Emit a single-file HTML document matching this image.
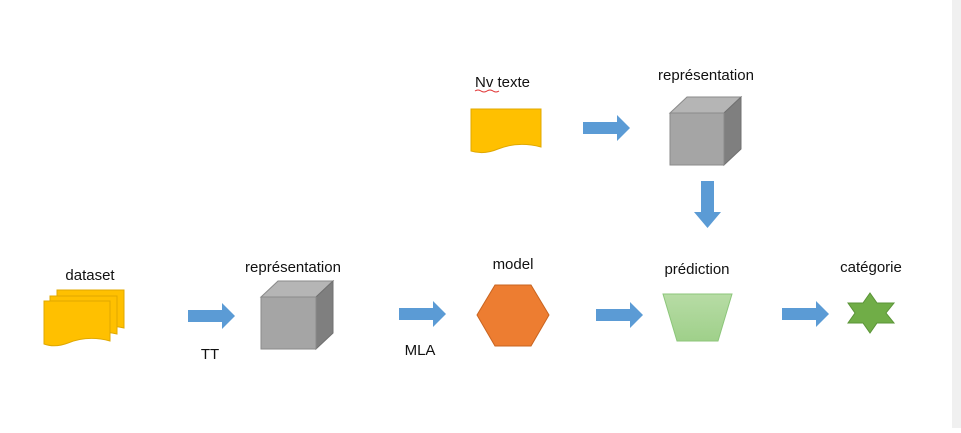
<!DOCTYPE html>
<html><head><meta charset="utf-8"><style>
body{margin:0;width:961px;height:428px;background:#fff;overflow:hidden}
text{font-family:"Liberation Sans",sans-serif;font-size:15px;fill:#111}
</style></head><body>
<svg width="961" height="428" viewBox="0 0 961 428" xmlns="http://www.w3.org/2000/svg">
<defs>
<linearGradient id="g" x1="0" y1="0" x2="0" y2="1"><stop offset="0" stop-color="#b7dca5"/><stop offset="1" stop-color="#9fd08a"/></linearGradient>
<g id="arr"><path d="M0,-6 H34 V-13 L47,0 L34,13 V6 H0 Z" fill="#5b9bd5"/></g>
</defs>
<rect x="952" y="0" width="9" height="428" fill="#f0f0f0"/>

<text x="90" y="280" text-anchor="middle">dataset</text>
<path d="M57,290 H124 V328 Q100,323 80,330 Q68,333 57,330 Z" fill="#ffc000" stroke="#e0a800" stroke-width="1"/>
<path d="M50,296 H117 V334 Q93,329 73,336 Q61,339 50,336 Z" fill="#ffc000" stroke="#e0a800" stroke-width="1"/>
<path d="M44,301 H110 V341 Q88,335 68,343 Q55,348 44,344 Z" fill="#ffc000" stroke="#e0a800" stroke-width="1"/>
<use href="#arr" x="188" y="316"/>
<text x="210" y="359" text-anchor="middle">TT</text>

<text x="293" y="272" text-anchor="middle">représentation</text>
<path d="M261,297 L278,281 H333 L316,297 Z" fill="#b5b5b5" stroke="#8a8a8a"/>
<path d="M316,297 L333,281 V333 L316,349 Z" fill="#7f7f7f" stroke="#707070"/>
<rect x="261" y="297" width="55" height="52" fill="#a5a5a5" stroke="#8a8a8a"/>
<use href="#arr" x="399" y="314"/>
<text x="420" y="355" text-anchor="middle">MLA</text>

<text x="513" y="269" text-anchor="middle">model</text>
<polygon points="495,285 531,285 549,315 531,346 495,346 477,315" fill="#ed7d31" stroke="#c86420"/>
<use href="#arr" x="596" y="315"/>

<text x="697" y="274" text-anchor="middle">prédiction</text>
<polygon points="663,294 732,294 718,341 677,341" fill="url(#g)" stroke="#8cc67a"/>
<use href="#arr" x="782" y="314"/>

<text x="871" y="272" text-anchor="middle">catégorie</text>
<polygon points="870,293 877,303 894,303 886,313 894,323 877,323 870,333 863,323 848,323 855,313 848,303 863,303" fill="#70ad47" stroke="#5a9437"/>

<text x="475" y="87">Nv texte</text>
<path d="M475,91 q3,-2 6,0 t6,0 t6,0 t6,0" fill="none" stroke="#e03030" stroke-width="1"/>
<path d="M471,109 H541 V147 Q518,141 498,149 Q484,155 471,151 Z" fill="#ffc000" stroke="#e0a800"/>
<use href="#arr" x="583" y="128"/>
<text x="706" y="80" text-anchor="middle">représentation</text>
<path d="M670,113 L687,97 H741 L724,113 Z" fill="#b5b5b5" stroke="#8a8a8a"/>
<path d="M724,113 L741,97 V149 L724,165 Z" fill="#7f7f7f" stroke="#707070"/>
<rect x="670" y="113" width="54" height="52" fill="#a5a5a5" stroke="#8a8a8a"/>
<path d="M701,181 H714 V212 H721 L707.5,228 L694,212 H701 Z" fill="#5b9bd5"/>
</svg>
</body></html>
